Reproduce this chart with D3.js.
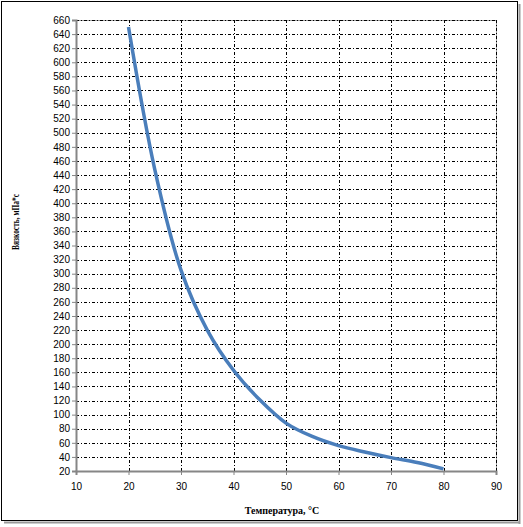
<!DOCTYPE html>
<html>
<head>
<meta charset="utf-8">
<title>Вязкость от температуры</title>
<style>
  body { margin: 0; background: #fff; }
  svg { display: block; font-family: "Liberation Serif", "Times New Roman", serif; }
  .grid line { stroke: #000; stroke-width: 1; stroke-dasharray: 3,2,1,2; }
  .axis path, .axis line { stroke: #868686; }
  .axis text { fill: #000; font-size: 10px; }
</style>
</head>
<body>
<div id="chart"></div>
<script src="https://cdn.jsdelivr.net/npm/d3@7"></script>
<script>
// temperature, °C
const temps = [20, 25, 30, 35, 40, 45, 50, 55, 60, 65, 70, 75, 80];
// viscosity, mPa*s
const visc = [650, 448, 305, 220, 163, 121, 88, 69, 56, 47, 39, 32, 23];
const xTicks = [10, 20, 30, 40, 50, 60, 70, 80, 90];
const yTicks = d3.range(20, 661, 20);

const W = 523, H = 527;
const margin = { top: 20, right: 27, bottom: 56, left: 76 };
const width = W - margin.left - margin.right;
const height = H - margin.top - margin.bottom;

const svg = d3.select('#chart').append('svg')
  .attr('width', W).attr('height', H);

// outer frame with shadow
svg.append('line').attr('x1', 519.5).attr('x2', 519.5).attr('y1', 4).attr('y2', 524)
  .attr('stroke', '#9a9a9a').attr('stroke-width', 2);
svg.append('line').attr('x1', 4).attr('x2', 520).attr('y1', 522.5).attr('y2', 522.5)
  .attr('stroke', '#9a9a9a').attr('stroke-width', 2);
svg.append('rect').attr('x', 1.5).attr('y', 1.5).attr('width', 516).attr('height', 519)
  .attr('fill', '#fff').attr('stroke', '#000');

const x = d3.scaleLinear().domain([10, 90]).range([0, width]);
const y = d3.scaleLinear().domain([20, 660]).range([height, 0]);

const g = svg.append('g').attr('transform', `translate(${margin.left},${margin.top})`);

// plot area border
g.append('rect').attr('x', 0.5).attr('y', 0.5).attr('width', width).attr('height', height)
  .attr('fill', 'none').attr('stroke', '#a0a0a0');

// gridlines
g.append('g').attr('class', 'grid')
  .selectAll('line').data(yTicks.slice(1)).join('line')
  .attr('x1', 0).attr('x2', width)
  .attr('y1', d => Math.round(y(d)) + 0.5).attr('y2', d => Math.round(y(d)) + 0.5);
g.append('g').attr('class', 'grid')
  .selectAll('line').data(xTicks.slice(1)).join('line')
  .attr('y1', 0).attr('y2', height)
  .attr('x1', d => Math.round(x(d)) + 0.5).attr('x2', d => Math.round(x(d)) + 0.5);

// axes
g.append('g').attr('class', 'axis')
  .call(d3.axisLeft(y).tickValues(yTicks).tickSize(4).tickPadding(2));
g.append('g').attr('class', 'axis')
  .attr('transform', `translate(0,${height})`)
  .call(d3.axisBottom(x).tickValues(xTicks).tickSize(4).tickPadding(8));
g.selectAll('.axis path').attr('stroke-width', 2);

// curve
const line = d3.line()
  .x((d, i) => x(temps[i]))
  .y(d => y(d))
  .curve(d3.curveCatmullRom.alpha(0.5));
g.append('path').datum(visc)
  .attr('fill', 'none')
  .attr('stroke', '#4a7ebb')
  .attr('stroke-width', 3.5)
  .attr('d', line);

// titles
svg.append('text')
  .attr('x', 282).attr('y', 514)
  .attr('text-anchor', 'middle')
  .attr('font-size', 10).attr('font-weight', 'bold')
  .text('Температура, °С');
svg.append('text')
  .attr('transform', 'translate(19,222) rotate(-90)')
  .attr('text-anchor', 'middle')
  .attr('font-size', 10).attr('font-weight', 'bold')
  .attr('textLength', 56).attr('lengthAdjust', 'spacingAndGlyphs')
  .text('Вязкость, мПа*с');
</script>
</body>
</html>
